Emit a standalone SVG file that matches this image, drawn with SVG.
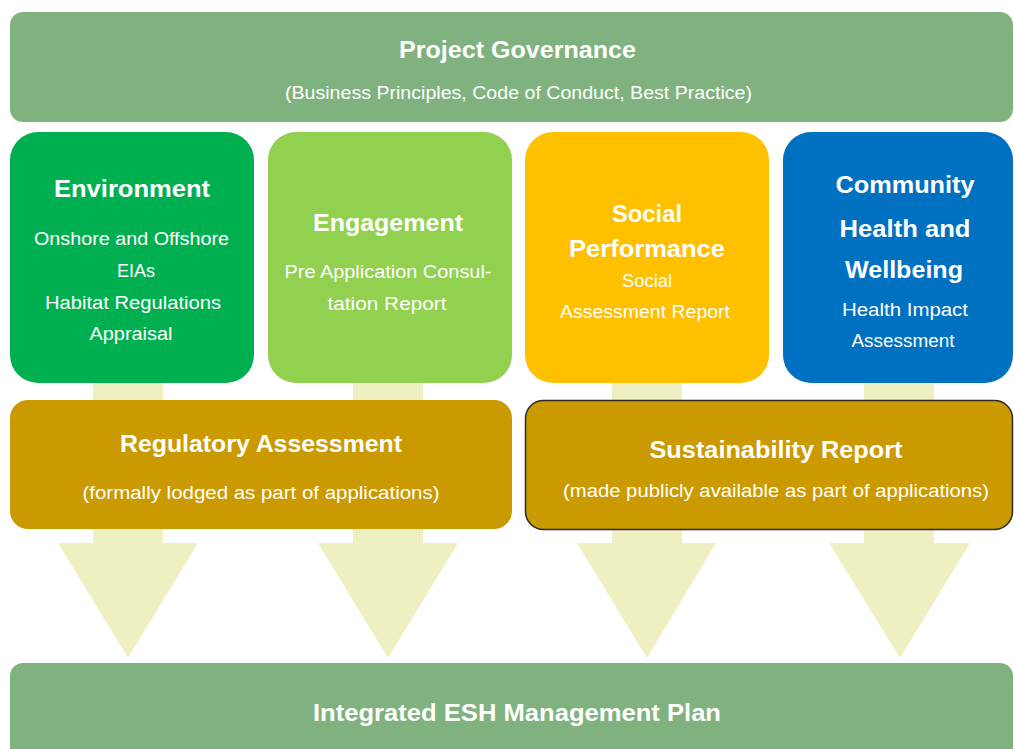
<svg xmlns="http://www.w3.org/2000/svg" width="1014" height="749" viewBox="0 0 1014 749">
<style>
text { fill: #ffffff; text-anchor: middle; font-family: "Liberation Sans", Arial, sans-serif; }
.t { font-weight: bold; font-size: 23px; }
.s { font-size: 18px; }
.arrow { fill: #EEF0C1; }
</style>
<rect x="0" y="0" width="1014" height="749" fill="#ffffff"/>
<g id="connectors">
  <polygon class="arrow" points="93,370 163,370 163,543 198,543 128,658 58,543 93,543"/>
  <polygon class="arrow" points="353,370 423,370 423,543 458,543 388,658 318,543 353,543"/>
  <polygon class="arrow" points="612,370 682,370 682,543 716,543 647,658 577,543 612,543"/>
  <polygon class="arrow" points="864,370 934,370 934,543 970,543 900,658 829,543 864,543"/>
</g>
<g id="governance">
  <rect x="10" y="12" width="1003" height="110" rx="13" fill="#7FB27E"/>
  <text class="t" x="517.5" y="58" textLength="237" lengthAdjust="spacingAndGlyphs">Project Governance</text>
  <text class="s" x="518.5" y="99" textLength="467" lengthAdjust="spacingAndGlyphs" fill="#F2F7F0">(Business Principles, Code of Conduct, Best Practice)</text>
</g>
<g id="environment">
  <rect x="10" y="132" width="244" height="251" rx="28" fill="#00B050"/>
  <text class="t" x="132" y="197" textLength="156" lengthAdjust="spacingAndGlyphs">Environment</text>
  <text class="s" x="131.5" y="245" textLength="195" lengthAdjust="spacingAndGlyphs">Onshore and Offshore</text>
  <text class="s" x="136" y="277">EIAs</text>
  <text class="s" x="133" y="309" textLength="176" lengthAdjust="spacingAndGlyphs">Habitat Regulations</text>
  <text class="s" x="131" y="340" textLength="83" lengthAdjust="spacingAndGlyphs">Appraisal</text>
</g>
<g id="engagement">
  <rect x="268" y="132" width="244" height="251" rx="28" fill="#92D050"/>
  <text class="t" x="388" y="231" textLength="150" lengthAdjust="spacingAndGlyphs">Engagement</text>
  <text class="s" x="388" y="278" textLength="207" lengthAdjust="spacingAndGlyphs">Pre Application Consul-</text>
  <text class="s" x="387" y="310" textLength="119" lengthAdjust="spacingAndGlyphs">tation Report</text>
</g>
<g id="social">
  <rect x="525" y="132" width="244" height="251" rx="28" fill="#FFC000"/>
  <text class="t" x="647" y="222" textLength="70" lengthAdjust="spacingAndGlyphs">Social</text>
  <text class="t" x="647" y="257" textLength="156" lengthAdjust="spacingAndGlyphs">Performance</text>
  <text class="s" x="647" y="287" textLength="50" lengthAdjust="spacingAndGlyphs">Social</text>
  <text class="s" x="645" y="318" textLength="170" lengthAdjust="spacingAndGlyphs">Assessment Report</text>
</g>
<g id="community">
  <rect x="783" y="132" width="230" height="251" rx="28" fill="#0070C0"/>
  <text class="t" x="905" y="193" textLength="139" lengthAdjust="spacingAndGlyphs">Community</text>
  <text class="t" x="905" y="237" textLength="131" lengthAdjust="spacingAndGlyphs">Health and</text>
  <text class="t" x="904" y="278" textLength="118" lengthAdjust="spacingAndGlyphs">Wellbeing</text>
  <text class="s" x="905" y="316" textLength="126" lengthAdjust="spacingAndGlyphs">Health Impact</text>
  <text class="s" x="903" y="347" textLength="103" lengthAdjust="spacingAndGlyphs">Assessment</text>
</g>
<g id="regulatory">
  <rect x="10" y="400" width="502" height="129" rx="18" fill="#CB9A00"/>
  <text class="t" x="261" y="452" textLength="282" lengthAdjust="spacingAndGlyphs">Regulatory Assessment</text>
  <text class="s" x="261" y="499" textLength="357" lengthAdjust="spacingAndGlyphs">(formally lodged as part of applications)</text>
</g>
<g id="sustainability">
  <rect x="525.5" y="400.5" width="487" height="129" rx="18" fill="#CB9A00" stroke="#2a2a2a" stroke-width="1.5"/>
  <text class="t" x="776" y="458" textLength="253" lengthAdjust="spacingAndGlyphs">Sustainability Report</text>
  <text class="s" x="776" y="497" textLength="426" lengthAdjust="spacingAndGlyphs">(made publicly available as part of applications)</text>
</g>
<g id="esh-plan">
  <rect x="10" y="663" width="1003" height="110" rx="13" fill="#7FB27E"/>
  <text class="t" x="517" y="721" textLength="408" lengthAdjust="spacingAndGlyphs">Integrated ESH Management Plan</text>
</g>
</svg>
